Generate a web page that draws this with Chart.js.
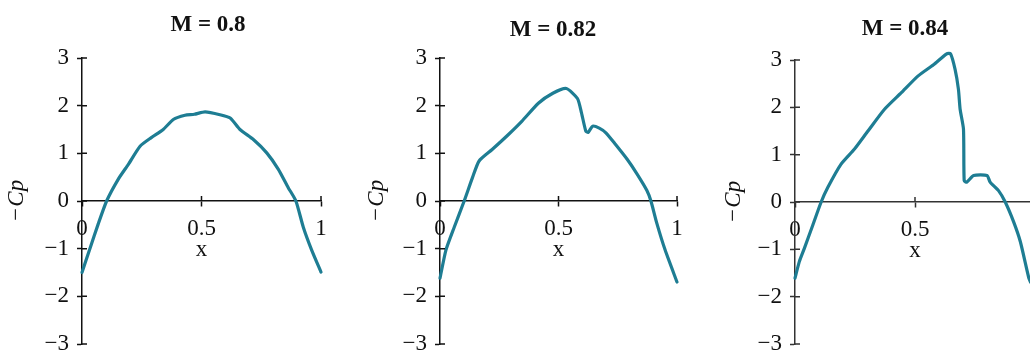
<!DOCTYPE html>
<html>
<head>
<meta charset="utf-8">
<script src="https://cdn.jsdelivr.net/npm/chart.js@4"></script>
<style>
  html, body { margin: 0; padding: 0; background: #fff; overflow: hidden; }
  #wrap { position: relative; width: 1030px; height: 351px; overflow: hidden; }
  canvas { position: absolute; top: 0; }
</style>
</head>
<body>
<div id="wrap">
  <canvas id="p1" width="412" height="351" style="left:2px"></canvas>
  <canvas id="p2" width="386" height="351" style="left:360px"></canvas>
  <canvas id="p3" width="380" height="351" style="left:715px"></canvas>
</div>
<script>
// pressure coefficient along the chord, one panel per Mach number
const titles = ["M = 0.8", "M = 0.82", "M = 0.84"];
const xTickLabels = ["0", "0.5", "1"];
const yTickLabels = ["\u22123", "\u22122", "\u22121", "0", "1", "2", "3"];

const x080 = [0, 0.033, 0.068, 0.103, 0.152, 0.194, 0.243, 0.29, 0.34, 0.382, 0.431, 0.47, 0.515, 0.577, 0.62, 0.661, 0.717, 0.773, 0.821, 0.863, 0.895, 0.926, 0.961, 1.0];
const cp080 = [-1.5, -1.0, -0.48, 0, 0.46, 0.77, 1.15, 1.33, 1.5, 1.71, 1.8, 1.82, 1.87, 1.81, 1.74, 1.5, 1.29, 1.01, 0.67, 0.28, 0, -0.55, -1.03, -1.49];

const x082 = [0, 0.025, 0.06, 0.102, 0.137, 0.165, 0.22, 0.29, 0.345, 0.415, 0.476, 0.533, 0.58, 0.597, 0.615, 0.625, 0.644, 0.672, 0.7, 0.74, 0.789, 0.831, 0.873, 0.89, 0.915, 0.95, 1.0];
const cp082 = [-1.62, -1.03, -0.55, 0, 0.49, 0.84, 1.08, 1.4, 1.67, 2.05, 2.26, 2.36, 2.15, 1.85, 1.47, 1.44, 1.57, 1.53, 1.43, 1.19, 0.88, 0.57, 0.22, 0, -0.47, -1.03, -1.7];

const x084 = [0, 0.018, 0.039, 0.074, 0.109, 0.137, 0.192, 0.248, 0.304, 0.373, 0.443, 0.512, 0.577, 0.632, 0.648, 0.667, 0.681, 0.688, 0.702, 0.705, 0.716, 0.744, 0.8, 0.813, 0.848, 0.876, 0.911, 0.939, 0.974, 0.982];
const cp084 = [-1.61, -1.26, -0.98, -0.49, 0, 0.31, 0.8, 1.12, 1.5, 1.96, 2.31, 2.66, 2.9, 3.13, 3.13, 2.8, 2.38, 1.96, 1.54, 0.45, 0.42, 0.56, 0.56, 0.42, 0.24, 0, -0.42, -0.84, -1.6, -1.7];

const series = [[x080, cp080], [x082, cp082], [x084, cp084]];

// right: blank strip after the plot so the title sits centred on the canvas
const panels = [
  { id: "p1", titlePad: { top: 11.7, bottom: 18.7 }, right: 93, yTitlePad: 3.5, axis: "#111" },
  { id: "p2", titlePad: { top: 16.2, bottom: 14.2 }, right: 69, yTitlePad: 5, axis: "#111" },
  { id: "p3", titlePad: { top: 15.2, bottom: 17.2 }, right: 60, yTitlePad: 7, axis: "#333" }
];

Chart.defaults.font.family = "'Liberation Serif', 'Times New Roman', serif";
Chart.defaults.color = "#111";

// short tick marks on the inner side of both axes
const innerTicks = {
  id: "innerTicks",
  afterDraw(chart, args, opts) {
    const { ctx, chartArea, scales: { x, y } } = chart;
    const y0 = y.getPixelForValue(0);
    ctx.save();
    ctx.strokeStyle = opts.color;
    ctx.lineWidth = 1.5;
    ctx.beginPath();
    y.ticks.forEach(t => {
      const py = y.getPixelForValue(t.value);
      ctx.moveTo(chartArea.left, py);
      ctx.lineTo(chartArea.left + 5, py);
    });
    x.ticks.forEach(t => {
      if (t.value === 0) return;
      const px = x.getPixelForValue(t.value);
      ctx.moveTo(px, y0);
      ctx.lineTo(px, y0 - 5);
    });
    ctx.stroke();
    ctx.restore();
  }
};

panels.forEach((p, i) => {
  const [xs, ys] = series[i];
  new Chart(document.getElementById(p.id), {
    type: "line",
    data: {
      datasets: [{
        data: xs.map((x, k) => ({ x: x, y: ys[k] })),
        borderColor: "#1e7d93",
        borderWidth: 3.2,
        pointRadius: 0,
        tension: 0.2,
        borderJoinStyle: "round",
        borderCapStyle: "round",
        clip: 12
      }]
    },
    options: {
      responsive: false,
      animation: false,
      devicePixelRatio: 1,
      layout: { padding: { top: 0, left: 0, right: 0, bottom: 7 } },
      plugins: {
        legend: { display: false },
        tooltip: { enabled: false },
        title: {
          display: true,
          text: titles[i],
          font: { size: 23, weight: "bold", lineHeight: 1.2 },
          padding: p.titlePad,
          color: "#111"
        },
        innerTicks: { color: p.axis }
      },
      scales: {
        x: {
          type: "linear",
          position: { y: 0 },
          min: 0,
          max: 1,
          ticks: {
            stepSize: 0.5,
            autoSkip: false,
            maxRotation: 0,
            padding: 8.7,
            font: { size: 23 },
            callback: (v, idx) => xTickLabels[idx]
          },
          grid: { drawOnChartArea: false, drawTicks: true, tickLength: 5, tickWidth: 1.5, tickColor: p.axis },
          border: { display: true, color: p.axis, width: 1.5 },
          title: { display: true, text: "x", font: { size: 23, lineHeight: 1 }, padding: 0 },
          afterFit: s => { s.height = 60.5; s.paddingLeft = 0; s.paddingRight = 0; }
        },
        y: {
          type: "linear",
          position: "left",
          min: -3,
          max: 3,
          ticks: {
            stepSize: 1,
            autoSkip: false,
            padding: 8,
            font: { size: 23 },
            callback: (v, idx) => yTickLabels[idx]
          },
          grid: { drawOnChartArea: false, drawTicks: true, tickLength: 5, tickWidth: 1.5, tickColor: p.axis },
          border: { display: true, color: p.axis, width: 1.5 },
          title: {
            display: true,
            text: "\u2212Cp",
            font: { size: 23, style: "italic", lineHeight: 1 },
            padding: { top: p.yTitlePad, bottom: 0 }
          },
          afterFit: s => { s.width = 80; s.paddingTop = 0; s.paddingBottom = 0; }
        },
        spacer: {
          type: "linear",
          position: "right",
          ticks: { display: false },
          grid: { display: false },
          border: { display: false },
          afterFit: s => { s.width = p.right; s.paddingTop = 0; s.paddingBottom = 0; }
        }
      }
    },
    plugins: [innerTicks]
  });
});
</script>
</body>
</html>
